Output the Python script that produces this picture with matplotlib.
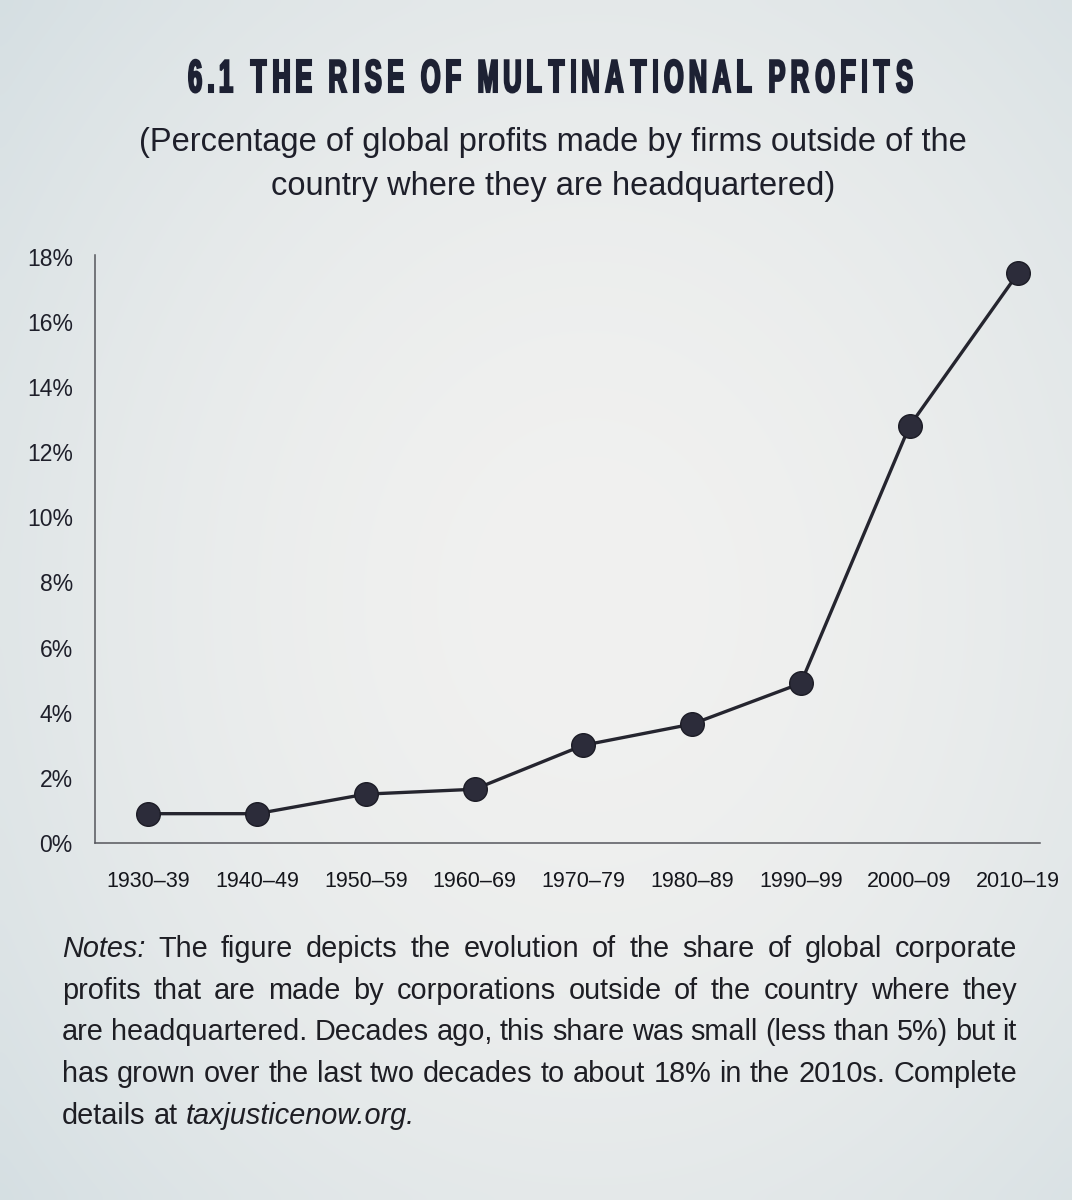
import matplotlib
matplotlib.use("Agg")
import matplotlib.pyplot as plt
import numpy as np
from matplotlib.font_manager import FontProperties
from matplotlib.textpath import TextPath
from matplotlib.patches import PathPatch
from matplotlib.transforms import Affine2D

# data
decades = ["1930–39", "1940–49", "1950–59", "1960–69", "1970–79",
           "1980–89", "1990–99", "2000–09", "2010–19"]
share_pct = [0.9, 0.9, 1.5, 1.65, 3.0, 3.65, 4.9, 12.8, 17.5]
y_ticks = [0, 2, 4, 6, 8, 10, 12, 14, 16, 18]

title = "6.1 THE RISE OF MULTINATIONAL PROFITS"
subtitle = ["(Percentage of global profits made by firms outside of the",
            "country where they are headquartered)"]
notes = [
    [("Notes:", "italic"), ("The figure depicts the evolution of the share of global corporate", "normal")],
    [("profits that are made by corporations outside of the country where they", "normal")],
    [("are headquartered. Decades ago, this share was small (less than 5%) but it", "normal")],
    [("has grown over the last two decades to about 18% in the 2010s. Complete", "normal")],
    [("details at", "normal"), ("taxjusticenow.org.", "italic")],
]

W, H = 1072, 1200
INK = "#1d2133"
SANS = "Liberation Sans"

fig = plt.figure(figsize=(W / 100, H / 100), dpi=100)
fig.patch.set_facecolor("#e6e9ea")
renderer = fig.canvas.get_renderer()

# soft page shading, lighter in the middle like the photographed page
bg = fig.add_axes([0, 0, 1, 1], zorder=-5)
gy, gx = np.mgrid[0:1:120j, 0:1:108j]
r = np.sqrt(((gx - 0.55) / 0.75) ** 2 + ((gy - 0.5) / 0.8) ** 2)
light = np.array([0.945, 0.945, 0.94])
edge = np.array([0.83, 0.87, 0.885])
img = light + (edge - light) * np.clip(r, 0, 1)[..., None] ** 1.8
bg.imshow(img, extent=[0, 1, 0, 1], aspect="auto", interpolation="bicubic")
bg.axis("off")

# overlay in pixel coordinates for the condensed, letter-spaced title
over = fig.add_axes([0, 0, 1, 1], zorder=5)
over.set_xlim(0, W)
over.set_ylim(H, 0)
over.axis("off")

title_prop = FontProperties(family=SANS, weight="bold")
cap_px = 33
size_px = cap_px / 0.716
sx = 0.55
left_t, right_t, base_t = 189, 912, 92
glyphs = []
for ch in title:
    if ch == " ":
        glyphs.append(None)
        continue
    tp = TextPath((0, 0), ch, size=size_px, prop=title_prop)
    ext = tp.get_extents()
    glyphs.append((tp, ext.x0, (ext.x1 - ext.x0) * sx))
space_w = 19
n_gaps = sum(1 for i in range(len(title) - 1) if title[i] != " " and title[i + 1] != " ")
ink = sum(g[2] for g in glyphs if g)
n_space = title.count(" ")
gap = (right_t - left_t - ink - n_space * space_w) / n_gaps
xp = left_t
for i, g in enumerate(glyphs):
    if g is None:
        xp += space_w
        continue
    tp, x0, w = g
    tr = Affine2D().translate(-x0, 0).scale(sx, -1).translate(xp, base_t)
    over.add_patch(PathPatch(tr.transform_path(tp), fc=INK, ec=INK, lw=1.5))
    xp += w
    if i + 1 < len(title) and title[i + 1] != " ":
        xp += gap

for i, line in enumerate(subtitle):
    fig.text(553 / W, 1 - (143 + 44 * i) / H, line, ha="center", va="center",
             fontsize=23.5, family=SANS, color="#1e1f2a")

# chart
ax = fig.add_axes([95 / W, 1 - 843 / H, (1040 - 95) / W, (843 - 255) / H])
ax.set_facecolor("none")
x = list(range(len(decades)))
ax.plot(x, share_pct, color="#25252f", lw=2.4, marker="o", ms=17,
        markerfacecolor="#2c2c3a", markeredgecolor="#1c1c26", zorder=3,
        clip_on=False)
ax.set_xlim(-0.49, len(decades) - 1 + 0.2)
ax.set_ylim(0, 18.05)
ax.set_yticks(y_ticks)
ax.set_yticklabels([f"{v}%" for v in y_ticks])
ax.set_xticks(x)
ax.set_xticklabels(decades)
for s in ["top", "right"]:
    ax.spines[s].set_visible(False)
for s in ["left", "bottom"]:
    ax.spines[s].set_color("#55565c")
    ax.spines[s].set_linewidth(1.1)
ax.tick_params(axis="y", length=0, pad=16, labelsize=16.5, labelcolor="#1e1f2a")
ax.tick_params(axis="x", length=0, pad=20, labelsize=15.5, labelcolor="#15161c")
for lab in ax.get_yticklabels() + ax.get_xticklabels():
    lab.set_family(SANS)


def width_px(t):
    return t.get_window_extent(renderer=renderer).width


# justified notes paragraph
left, right = 62, 1017
for i, segs in enumerate(notes):
    y = 1 - (957 + 41.7 * i) / H
    words = []
    for txt, style in segs:
        for w in txt.split(" "):
            words.append(fig.text(0, y, w, va="baseline", ha="left", fontsize=20.8,
                                  family=SANS, style=style, color="#1e1e24"))
    widths = [width_px(t) for t in words]
    last = i == len(notes) - 1
    gap_n = 8 if last else (right - left - sum(widths)) / (len(words) - 1)
    xp = left
    for t, w in zip(words, widths):
        t.set_x(xp / W)
        xp += w + gap_n

fig.savefig("out.png", dpi=100)
